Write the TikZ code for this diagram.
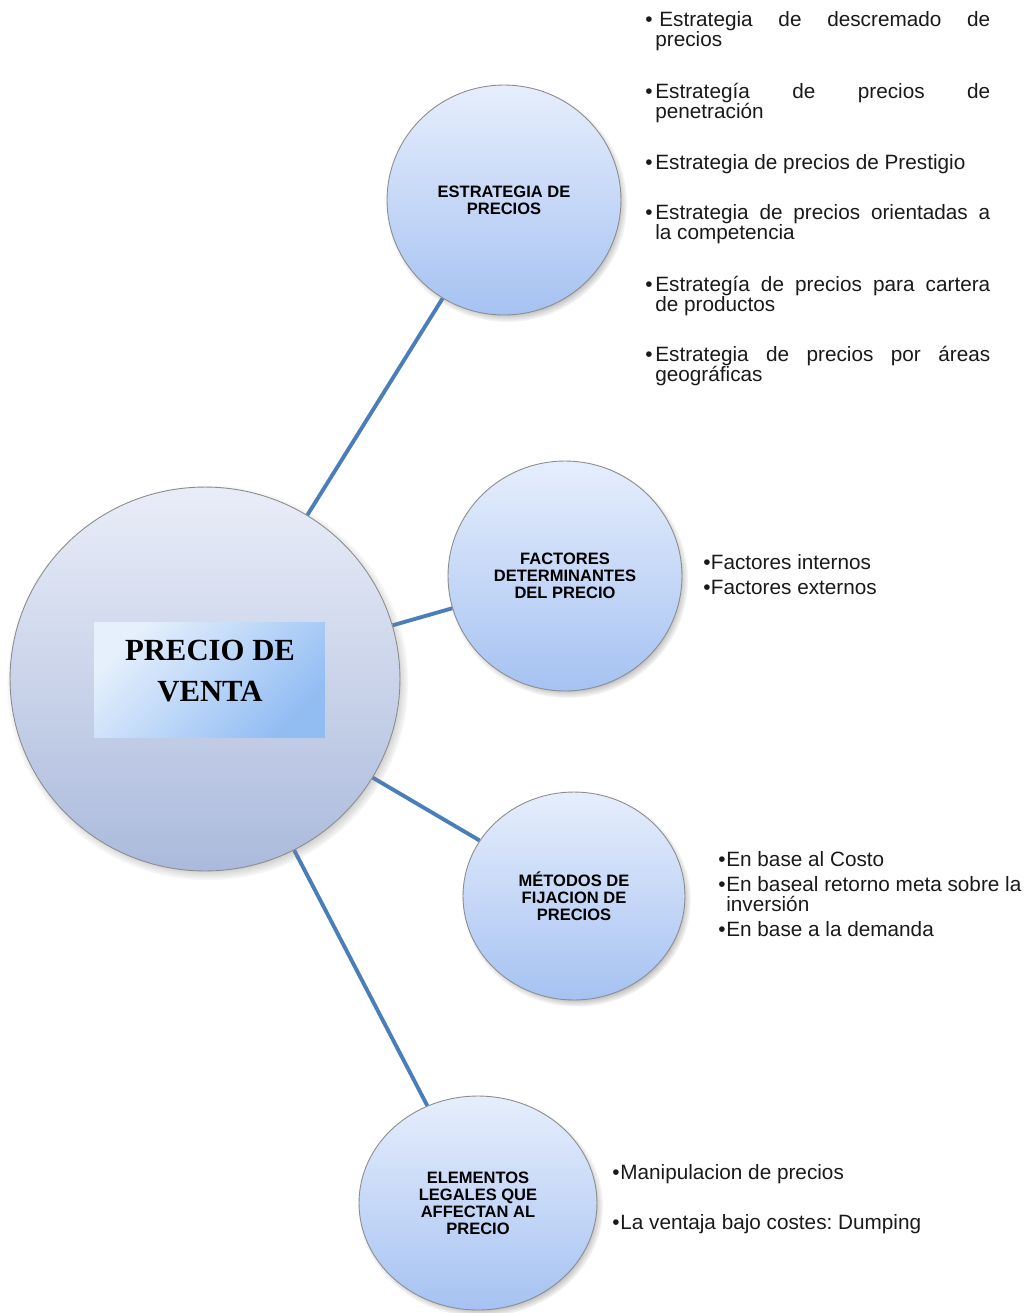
\documentclass[tikz,border=0pt]{standalone}
\usepackage{fontspec}
\setmainfont{Liberation Sans}
\newfontfamily\titlefont{Liberation Serif}
\usetikzlibrary{shapes.geometric,shadows}

\definecolor{linkblue}{HTML}{4A7EBB}
\definecolor{hubtop}{HTML}{E9EDF8}
\definecolor{hubbot}{HTML}{ABBADC}
\definecolor{bubtop}{HTML}{E6EEFC}
\definecolor{bubbot}{HTML}{A6C2F2}
\definecolor{boxlight}{HTML}{E6F0FC}
\definecolor{boxdark}{HTML}{92BDF3}
\definecolor{ink}{HTML}{1A1A1A}

% bullet in a box of width #1, followed by a paragraph of width #2
\newcommand\bulletpar[3]{\makebox[#1][l]{\textbullet}\parbox[t]{#2}{#3}}

\pgfdeclarelayer{paper}
\pgfdeclarelayer{links}
\pgfsetlayers{paper,links,main}

\begin{document}
\frenchspacing
\begin{tikzpicture}[x=0.02cm,y=-0.02cm,
  bubble/.style={ellipse, inner sep=0pt, draw=black!45, line width=0.5pt,
    top color=bubtop, bottom color=bubbot,
    circular drop shadow={shadow scale=1.03, shadow xshift=0.05cm, shadow yshift=-0.07cm},
    font=\bfseries\fontsize{9.4}{9.7}\selectfont, align=center},
  hub/.style={bubble, top color=hubtop, bottom color=hubbot},
  link/.style={draw=linkblue, line width=2.2pt},
  listentry/.style={anchor=base west, inner sep=0pt,
    font=\fontsize{11.8}{11.9}\selectfont, text=ink},
]

\begin{pgfonlayer}{paper}
  \fill[white] (0,0) rectangle (1029,1313);
\end{pgfonlayer}
\useasboundingbox (0,0) rectangle (1029,1313);

% central hub
\node[hub, minimum width=7.8cm, minimum height=7.68cm] (hub) at (205,679) {};
\node[inner sep=0pt, minimum width=4.62cm, minimum height=2.3cm,
      top color=boxlight, bottom color=boxdark, shading angle=45] (titlebox) at (209.5,679.5) {};
\node[font=\titlefont\bfseries\fontsize{17.5}{23}\selectfont, align=center, inner sep=0pt]
  (title) at (210,671) {PRECIO DE\\VENTA};

% topic bubbles
\node[bubble, minimum width=4.68cm, minimum height=4.6cm] (strat) at (504,200) {ESTRATEGIA DE\\PRECIOS};
\node[bubble, minimum width=4.68cm, minimum height=4.6cm] (fact) at (565,576) {FACTORES\\DETERMINANTES\\DEL PRECIO};
\node[bubble, minimum width=4.44cm, minimum height=4.16cm] (meth) at (574,896) {MÉTODOS DE\\FIJACION DE\\PRECIOS};
\node[bubble, minimum width=4.76cm, minimum height=4.28cm] (legal) at (478,1203) {ELEMENTOS\\LEGALES QUE\\AFFECTAN AL\\PRECIO};

% connectors
\begin{pgfonlayer}{links}
  \draw[link] (hub) -- (strat);
  \draw[link] (hub) -- (fact);
  \draw[link] (hub) -- (meth);
  \draw[link] (hub) -- (legal);
\end{pgfonlayer}

% pricing strategies (justified paragraphs)
\node[listentry] (s1) at (645,26)  {\bulletpar{0.2cm}{6.7cm}{\hspace{0.08cm}Estrategia de descremado de\linebreak precios}};
\node[listentry] (s2) at (645,98)  {\bulletpar{0.2cm}{6.7cm}{Estrategía de precios de\linebreak penetración}};
\node[listentry] (s3) at (645,169) {\bulletpar{0.2cm}{6.7cm}{Estrategia de precios de Prestigio}};
\node[listentry] (s4) at (645,219) {\bulletpar{0.2cm}{6.7cm}{Estrategia de precios orientadas a\linebreak la competencia}};
\node[listentry] (s5) at (645,291) {\bulletpar{0.2cm}{6.7cm}{Estrategía de precios para cartera\linebreak de productos}};
\node[listentry] (s6) at (645,361) {\bulletpar{0.2cm}{6.7cm}{Estrategia de precios por áreas\linebreak geográficas}};

% price factors
\node[listentry] (f1) at (703,569) {\bulletpar{0.15cm}{5.5cm}{\raggedright Factores internos}};
\node[listentry] (f2) at (703,594) {\bulletpar{0.15cm}{5.5cm}{\raggedright Factores externos}};

% pricing methods
\node[listentry] (m1) at (718,866) {\bulletpar{0.16cm}{6cm}{\raggedright En base al Costo}};
\node[listentry] (m2) at (718,891) {\bulletpar{0.16cm}{6cm}{\raggedright En baseal retorno meta sobre la\\inversión}};
\node[listentry] (m3) at (718,936) {\bulletpar{0.16cm}{6cm}{\raggedright En base a la demanda}};

% legal elements
\node[listentry] (l1) at (612,1179) {\bulletpar{0.16cm}{7cm}{\raggedright Manipulacion de precios}};
\node[listentry] (l2) at (612,1229) {\bulletpar{0.16cm}{7cm}{\raggedright La ventaja bajo costes: Dumping}};

\end{tikzpicture}
\end{document}
